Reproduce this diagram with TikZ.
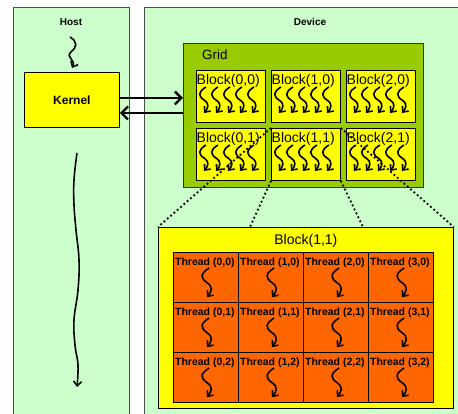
\documentclass[tikz,border=0pt]{standalone}
\usepackage{fontspec}
\setmainfont{Liberation Sans}
\usetikzlibrary{arrows.meta,calc}
\definecolor{panel}{HTML}{CCFFCC}
\definecolor{gridgreen}{HTML}{99CC00}
\definecolor{yel}{HTML}{FFFF00}
\definecolor{orng}{HTML}{FF6600}
\begin{document}
\begin{tikzpicture}[x=1pt,y=-1pt,
  panelbox/.style={draw=black!70,fill=panel,line width=0.9pt,anchor=north west,inner sep=0pt},
  gridbox/.style={draw=black!80,fill=gridgreen,line width=0.9pt,anchor=north west,inner sep=0pt},
  blockbox/.style={draw=black,fill=yel,line width=0.8pt,anchor=north west,inner sep=0pt},
  threadbox/.style={draw=black,fill=orng,line width=0.8pt,anchor=north west,inner sep=0pt,minimum width=65pt,minimum height=50pt},
  sq/.style={line width=1.6pt,-{Straight Barb[length=4.5pt,width=8pt,line width=1.6pt]}},
  bigarrow/.style={line width=2.4pt,-{Straight Barb[length=6.5pt,width=13pt,line width=2.4pt]}},
  dots/.style={line width=1.8pt,dash pattern=on 1.8pt off 2.6pt},
  squig/.pic={\draw[sq] (2,0) .. controls (-6,5) and (-6,9) .. (0,13) .. controls (6,17) and (4,21) .. (0,26);},
  blocklabel/.style={anchor=north west,inner sep=0pt,font=\fontsize{14}{16}\selectfont},
  threadlabel/.style={inner sep=0pt,font=\bfseries\fontsize{10.5}{12}\selectfont}
]
\useasboundingbox (0,0) rectangle (458,414);
\clip (0,0) rectangle (458,414);
\fill[white] (0,0) rectangle (458,414);

% panels
\node[panelbox,minimum width=116pt,minimum height=420pt] (host) at (13,7) {};
\node[panelbox,minimum width=330pt,minimum height=420pt] (device) at (144,7) {};
\node[font=\bfseries\fontsize{10}{12}\selectfont] (hostlbl) at (71,22) {Host};
\node[font=\bfseries\fontsize{10}{12}\selectfont] (devlbl) at (310,22) {Device};

% kernel
\node[blockbox,minimum width=95pt,minimum height=55pt] (kernel) at (24,72) {};
\node[font=\bfseries\fontsize{12}{14}\selectfont] (kernellbl) at (kernel.center) {Kernel};

% host thread arrows
\coordinate (hs) at (70,37);
\coordinate (he) at (72,68);
\draw[sq] (hs) .. controls (78,42) and (77,47) .. (71,52) .. controls (65,57) and (76,60) .. (he);
\draw[sq] plot[smooth,tension=0.7] coordinates {(77,153) (74,180) (74,205) (76,230) (79,260) (78,290) (74,320) (75,345) (78,365) (77,387)};

% grid
\node[gridbox,minimum width=240pt,minimum height=144pt] (grid) at (183,43) {};
\node[anchor=west,inner sep=0pt,font=\fontsize{13.5}{15}\selectfont] (gridlbl) at (202,55) {Grid};

% arrows kernel <-> grid
\draw[bigarrow] (kernel.east |- 0,98) -- (grid.west |- 0,98);
\draw[bigarrow] (grid.west |- 0,113) -- (kernel.east |- 0,113);

% blocks
\foreach \i in {0,1,2}{
  \foreach \j in {0,1}{
    \node[blockbox,minimum width=69pt,minimum height=52pt] (b\i\j) at ({196+75*\i},{70+58*\j}) {};
    \node[blocklabel] at ($(b\i\j.north west)+(0.5,4.5)$) {Block(\i,\j)};
    \foreach \k in {0,...,4}{
      \pic at ($(b\i\j.north west)+({8+12*\k},17)$) {squig};
    }
  }
}

% big block
\node[blockbox,minimum width=295pt,minimum height=181pt] (bb) at (158,227) {};
\node[font=\fontsize{14}{16}\selectfont] (bblbl) at ($(bb.north)+(0,14)$) {Block(1,1)};
\coordinate (p1) at ($(bb.north west)+(92,0)$);
\coordinate (p2) at ($(bb.north west)+(205,0)$);

% dotted zoom lines
\draw[dots] (b11.north west) -- (bb.north west);
\draw[dots] (b11.south west) -- (p1);
\draw[dots] (b11.south east) -- (p2);
\draw[dots] (b11.north east) -- (bb.north east);

% threads
\foreach \i in {0,1,2,3}{
  \foreach \j in {0,1,2}{
    \node[threadbox] (t\i\j) at ({173+65*\i},{252+50*\j}) {};
    \node[threadlabel] at ($(t\i\j.north)+(-1,11)$) {Thread (\i,\j)};
    \pic[scale=1.12] at ($(t\i\j.north)+(1,16)$) {squig};
  }
}
\end{tikzpicture}
\end{document}
